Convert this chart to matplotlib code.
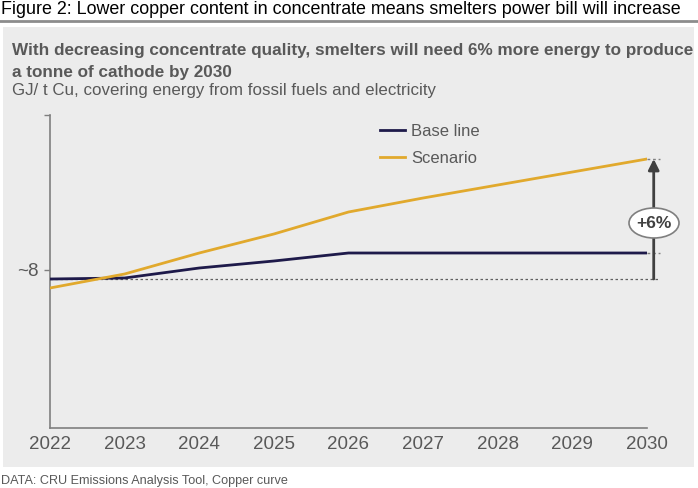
import matplotlib.pyplot as plt
from matplotlib.patches import Rectangle, Ellipse

plt.rcParams['font.family'] = ['Liberation Sans', 'DejaVu Sans']

# data (GJ/t Cu, ~8 at 2022 baseline)
years = [2022, 2023, 2024, 2025, 2026, 2027, 2028, 2029, 2030]
base_line = [8.000, 8.004, 8.044, 8.072, 8.104, 8.104, 8.104, 8.104, 8.104]
scenario = [7.964, 8.020, 8.104, 8.180, 8.268, 8.324, 8.376, 8.428, 8.480]
ytick_vals = [8.036, 8.656]
ytick_labels = ['~8', '']

W, H = 698, 488
TXT = '#595959'
BASE_C = '#1e1a4a'
SCEN_C = '#e1a92d'


def fx(x):
    return x / W


def fy(y):
    return 1 - y / H


fig = plt.figure(figsize=(W / 100, H / 100), dpi=100)
fig.patch.set_facecolor('white')

# grey panel
fig.patches.append(Rectangle((fx(3), fy(467)), fx(691), 440 / H,
                             transform=fig.transFigure, facecolor='#ececec',
                             edgecolor='none', zorder=-5))
# rule under figure caption
fig.add_artist(plt.Line2D([0, 1], [fy(21), fy(21)], transform=fig.transFigure,
                          color='#8c8c8c', lw=2))

fig.text(fx(1), fy(9), 'Figure 2: Lower copper content in concentrate means smelters power bill will increase',
         fontsize=12.9, color='black', va='center', ha='left')
fig.text(fx(12), fy(50), 'With decreasing concentrate quality, smelters will need 6% more energy to produce',
         fontsize=12.3, fontweight='bold', color=TXT, va='center', ha='left')
fig.text(fx(12), fy(72), 'a tonne of cathode by 2030',
         fontsize=12.3, fontweight='bold', color=TXT, va='center', ha='left')
fig.text(fx(12), fy(91), 'GJ/ t Cu, covering energy from fossil fuels and electricity',
         fontsize=12.2, color=TXT, va='center', ha='left')
fig.text(fx(1), fy(481), 'DATA: CRU Emissions Analysis Tool, Copper curve',
         fontsize=9.1, color=TXT, va='center', ha='left')

ax = fig.add_axes([fx(50), fy(428), fx(597), 313 / H])
ax.set_zorder(1)
ax.set_facecolor('none')
ax.set_xlim(2022, 2030)
ax.set_ylim(7.404, 8.656)

ax.plot(years, base_line, color=BASE_C, lw=2, label='Base line', zorder=3)
ax.plot(years, scenario, color=SCEN_C, lw=2, label='Scenario', zorder=3)

# reference dotted line at 2022 baseline level
ax.plot([2022, 2030.15], [base_line[0], base_line[0]], color='#606060',
        lw=0.9, ls=(0, (2, 2)), clip_on=False, zorder=2)
for v in (base_line[-1], scenario[-1]):
    ax.plot([2030, 2030.17], [v, v], color='#808080', lw=1,
            ls=(0, (2, 2)), clip_on=False, zorder=2)

arrow_x = 2030.09
ax.annotate('', xy=(arrow_x, scenario[-1]), xytext=(arrow_x, base_line[0]),
            arrowprops=dict(arrowstyle='-|>', color='#404040', lw=2,
                            mutation_scale=16, shrinkA=0, shrinkB=0),
            annotation_clip=False, zorder=4)
ell = Ellipse((fx(654), fy(223)), 50 / W, 30 / H, transform=fig.transFigure,
              facecolor='white', edgecolor='#7f7f7f', lw=1.2, zorder=5,
              clip_on=False)
ax.add_artist(ell)
ax.text(fx(654), fy(223), '+6%', fontsize=12.5, fontweight='bold',
        color='#404040', ha='center', va='center', zorder=6,
        transform=fig.transFigure)

for s in ('top', 'right'):
    ax.spines[s].set_visible(False)
for s in ('left', 'bottom'):
    ax.spines[s].set_color('#7f7f7f')
    ax.spines[s].set_linewidth(1.2)

ax.set_xticks(years)
ax.set_xticklabels([str(y) for y in years])
ax.set_yticks(ytick_vals)
ax.set_yticklabels(ytick_labels)
ax.tick_params(axis='x', length=0, pad=6, labelsize=13.5, labelcolor=TXT)
ax.tick_params(axis='y', length=4, width=1, color='#7f7f7f', pad=4,
               labelsize=13.5, labelcolor=TXT)

leg = ax.legend(loc='upper left', bbox_to_anchor=((365 - 50) / 597, 1 + 6 / 313),
                frameon=False, fontsize=12, handlelength=1.5, handletextpad=0.35,
                labelspacing=0.72, labelcolor=TXT)

fig.savefig('out.png', dpi=100)
